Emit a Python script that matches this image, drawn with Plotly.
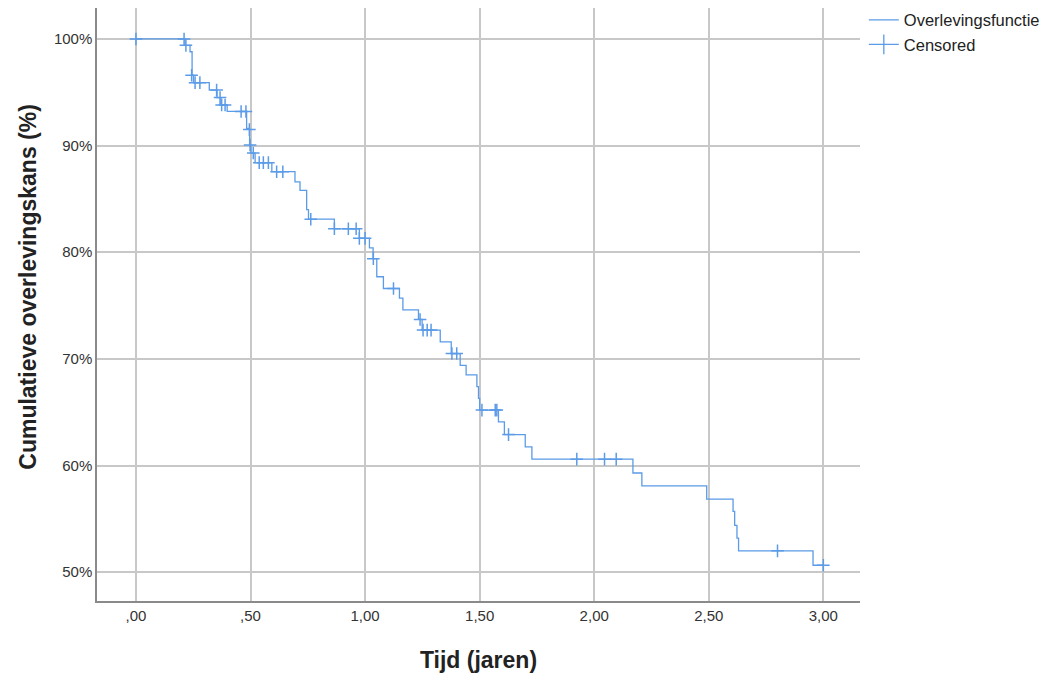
import plotly.graph_objects as go

# Survival step function: event times (years) and survival (%) after each event
event_times = [0.214, 0.236, 0.245, 0.251, 0.320, 0.354, 0.371, 0.398, 0.483, 0.496, 0.502, 0.520,
               0.593, 0.694, 0.716, 0.745, 0.753, 0.866, 0.975, 1.019, 1.035, 1.051, 1.080, 1.150,
               1.165, 1.233, 1.249, 1.328, 1.376, 1.415, 1.441, 1.488, 1.495, 1.500, 1.582, 1.608,
               1.699, 1.728, 2.169, 2.208, 2.491, 2.606, 2.613, 2.623, 2.630, 2.955]
survival = [99.4, 98.8, 96.6, 95.9, 95.2, 94.5, 93.8, 93.2, 91.6, 90.05, 89.3, 88.4,
            87.55, 86.6, 85.8, 84.0, 83.1, 82.2, 81.3, 80.4, 79.4, 77.7, 76.6, 75.7,
            74.6, 73.7, 72.7, 71.6, 70.5, 69.4, 68.5, 67.4, 66.3, 65.2, 64.1, 62.9,
            61.75, 60.6, 59.3, 58.1, 56.85, 55.7, 54.4, 53.2, 52.0, 50.65]
start_time = 0.0
start_surv = 100.0
end_time = 3.0

# Censored observations
censor_times = [0.0, 0.210, 0.218, 0.243, 0.258, 0.279, 0.352, 0.367, 0.374, 0.389, 0.459, 0.480,
                0.495, 0.498, 0.512, 0.538, 0.556, 0.578, 0.614, 0.641, 0.763, 0.866, 0.927, 0.961,
                0.975, 1.000, 1.036, 1.124, 1.240, 1.253, 1.271, 1.288, 1.379, 1.400, 1.510, 1.568,
                1.575, 1.626, 1.924, 2.045, 2.096, 2.800, 3.000]
censor_surv = [100.0, 100.0, 99.4, 96.6, 95.9, 95.9, 95.2, 94.5, 93.8, 93.8, 93.2, 93.2,
               91.5, 90.05, 89.3, 88.4, 88.4, 88.4, 87.55, 87.55, 83.1, 82.2, 82.2, 82.2,
               81.3, 81.3, 79.4, 76.6, 73.7, 72.7, 72.7, 72.7, 70.5, 70.5, 65.2, 65.2,
               65.2, 62.9, 60.6, 60.6, 60.6, 52.0, 50.65]

x_tickvals = [0, 0.5, 1.0, 1.5, 2.0, 2.5, 3.0]
x_ticktext = [",00", ",50", "1,00", "1,50", "2,00", "2,50", "3,00"]
y_tickvals = [50, 60, 70, 80, 90, 100]
y_ticktext = ["50%", "60%", "70%", "80%", "90%", "100%"]

color = "#5b9be8"
font = "Liberation Sans, Arial, sans-serif"

step_x = [start_time] + event_times + [end_time]
step_y = [start_surv] + survival + [survival[-1]]

fig = go.Figure()
fig.add_trace(go.Scatter(
    x=step_x, y=step_y, mode="lines", line=dict(color=color, width=1.3, shape="hv"),
    name="Overlevingsfunctie", hoverinfo="x+y"))
fig.add_trace(go.Scatter(
    x=censor_times, y=censor_surv, mode="markers",
    marker=dict(symbol="cross-thin", size=9, line=dict(color=color, width=1.5)),
    name="Censored", showlegend=False))
fig.add_trace(go.Scatter(
    x=[None], y=[None], mode="lines+markers", name="Censored",
    line=dict(color=color, width=1.3),
    marker=dict(symbol="line-ns", size=14, line=dict(color=color, width=1.3))))

fig.update_layout(
    width=1048, height=673,
    margin=dict(l=89, r=196, t=0, b=80, autoexpand=False),
    plot_bgcolor="white", paper_bgcolor="white",
    font=dict(family=font, color="#222"),
    showlegend=True,
    legend=dict(x=1.005, y=1.009, xanchor="left", yanchor="top",
                font=dict(size=16.5, color="#222"), tracegroupgap=0,
                bgcolor="rgba(0,0,0,0)"),
    xaxis=dict(
        range=[-0.17, 3.16], tickvals=x_tickvals, ticktext=x_ticktext,
        showgrid=True, gridcolor="#c8c8c8", gridwidth=1.5,
        showline=True, linecolor="#8a8a8a", linewidth=1.5,
        zeroline=False, ticks="", tickfont=dict(size=15, color="#333"),
        title=dict(text="<b>Tijd (jaren)</b>", font=dict(size=23, color="#222"), standoff=29)),
    yaxis=dict(
        range=[47.3, 102.9], tickvals=y_tickvals, ticktext=y_ticktext,
        showgrid=True, gridcolor="#c8c8c8", gridwidth=1.5,
        showline=True, linecolor="#8a8a8a", linewidth=1.5,
        zeroline=False, ticks="", tickfont=dict(size=15, color="#333"),
        automargin=False),
    annotations=[dict(
        text="<b>Cumulatieve overlevingskans (%)</b>", textangle=-90,
        xref="paper", yref="paper", x=-0.0904, y=0.53, xanchor="center", yanchor="middle",
        showarrow=False, font=dict(size=23, color="#222"))],
)

fig.write_html("out.html")
